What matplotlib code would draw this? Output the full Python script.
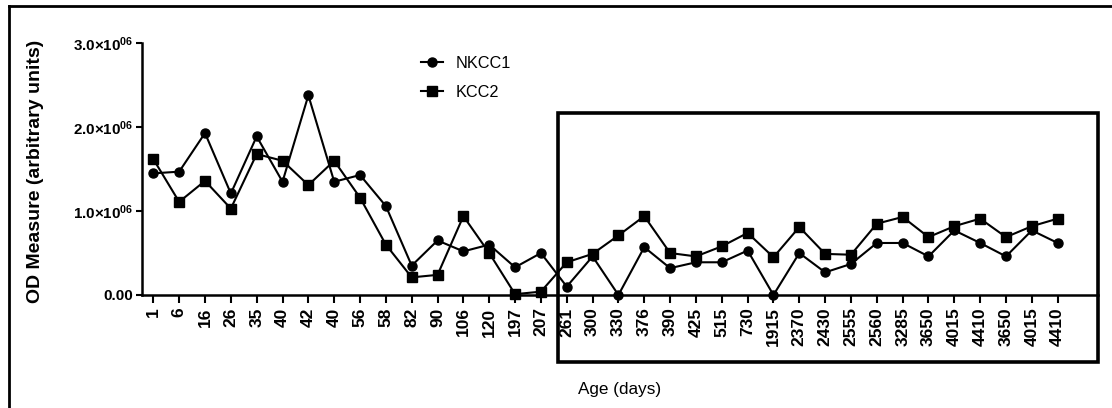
import matplotlib
matplotlib.use("Agg")
import matplotlib.pyplot as plt
from matplotlib.patches import Rectangle
from matplotlib.lines import Line2D

plt.rcParams["font.family"] = ["Liberation Sans", "DejaVu Sans"]
plt.rcParams["mathtext.fontset"] = "custom"
plt.rcParams["mathtext.rm"] = "Liberation Sans"
plt.rcParams["mathtext.bf"] = "Liberation Sans:bold"

# ages as printed on the x axis (categorical, repeats kept)
ages = ["1", "6", "16", "26", "35", "40", "42", "40", "56", "58", "82", "90",
        "106", "120", "197", "207", "261", "300", "330", "376", "390", "425",
        "515", "730", "1915", "2370", "2430", "2555", "2560", "3285", "3650",
        "4015", "4410", "3650", "4015", "4410"]

# OD values, units of 1e6
nkcc1 = [1.45, 1.47, 1.93, 1.21, 1.89, 1.35, 2.38, 1.35, 1.43, 1.06, 0.35, 0.65,
         0.52, 0.60, 0.33, 0.50, 0.10, 0.46, 0.00, 0.57, 0.32, 0.39,
         0.39, 0.53, 0.00, 0.50, 0.27, 0.37, 0.62, 0.62, 0.46,
         0.77, 0.62, 0.46, 0.77, 0.62]
kcc2 = [1.62, 1.11, 1.36, 1.03, 1.68, 1.60, 1.31, 1.60, 1.16, 0.60, 0.21, 0.24,
        0.94, 0.50, 0.01, 0.04, 0.39, 0.49, 0.71, 0.94, 0.50, 0.46,
        0.58, 0.74, 0.45, 0.81, 0.49, 0.48, 0.85, 0.93, 0.69,
        0.82, 0.91, 0.69, 0.82, 0.91]

yticks = [0, 1e6, 2e6, 3e6]
ytick_labels = ["0.00", r"$\mathbf{1.0{\times}10^{06}}$",
                r"$\mathbf{2.0{\times}10^{06}}$", r"$\mathbf{3.0{\times}10^{06}}$"]

W, H = 1112, 408
fig = plt.figure(figsize=(W / 100, H / 100), dpi=100)
ax = fig.add_axes([141.7 / W, 113 / H, (1098 - 141.7) / W, (295 - 43.3) / H])

x = list(range(len(ages)))
ax.plot(x, [v * 1e6 for v in nkcc1], color="black", lw=1.5, marker="o",
        ms=6.5, label="NKCC1", clip_on=False, zorder=3)
ax.plot(x, [v * 1e6 for v in kcc2], color="black", lw=1.5, marker="s",
        ms=6.8, label="KCC2", clip_on=False, zorder=3)

ax.set_xlim(-0.45, 36.56)
ax.set_ylim(0, 3e6)
ax.set_xticks(x)
ax.set_xticklabels(ages, rotation=90, fontsize=12.5, fontweight="bold")
ax.set_yticks(yticks)
ax.set_yticklabels(ytick_labels, fontsize=10.9, fontweight="bold")
ax.tick_params(axis="x", length=6, width=1.5, pad=3)
ax.tick_params(axis="y", length=4, width=1.5, pad=2)

for side in ["top", "right"]:
    ax.spines[side].set_visible(False)
for side in ["left", "bottom"]:
    ax.spines[side].set_linewidth(1.8)

ax.set_ylabel("OD Measure (arbitrary units)", fontsize=14, fontweight="bold")
ax.yaxis.set_label_coords(-0.102, 0.49)
ax.set_xlabel("Age (days)", fontsize=12.3)
ax.xaxis.set_label_coords(0.5, -0.345)

leg = ax.legend(loc="upper left", bbox_to_anchor=((406 - 141.7) / 956.3, 1.008),
                frameon=False, fontsize=11.7, handlelength=1.35, handletextpad=0.8,
                labelspacing=0.85)

# highlight box around the adult ages
ax.add_patch(Rectangle((0.4353, -0.266), 0.5647, 0.989, transform=ax.transAxes,
                       fill=False, lw=2.6, ec="black", clip_on=False))

# outer frame of the original figure
fig.add_artist(Line2D([9 / W, 9 / W], [0, 1 - 6 / H], color="black", lw=2,
                      transform=fig.transFigure))
fig.add_artist(Line2D([9 / W, 1], [1 - 6 / H, 1 - 6 / H], color="black", lw=2,
                      transform=fig.transFigure))

fig.savefig("out.png", dpi=100)
